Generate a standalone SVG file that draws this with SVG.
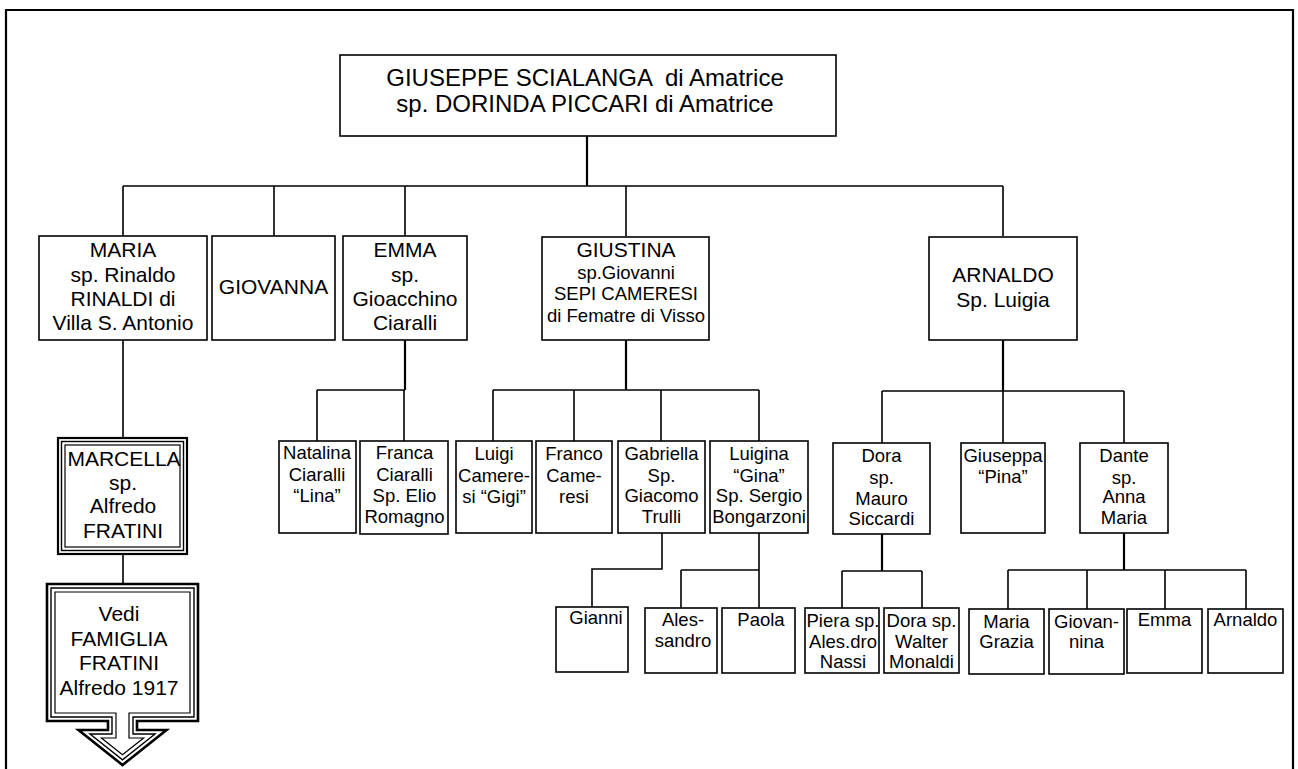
<svg xmlns="http://www.w3.org/2000/svg" width="1298" height="769" viewBox="0 0 1298 769">
  <style>
    .box { fill: #fff; stroke: #000; stroke-width: 1.6; }
    .ln { fill: none; stroke: #000; stroke-width: 1.6; }
    .stem { fill: none; stroke: #000; stroke-width: 2.2; }
    text { font-family: "Liberation Sans", Arial, sans-serif; fill: #000; text-anchor: middle; white-space: pre; }
    .t24 { font-size: 24px; }
    .t21 { font-size: 21px; }
    .t18 { font-size: 18.5px; }
  </style>

  <!-- page frame (open at the bottom) -->
  <path d="M6,780 V10 H1293 V780" fill="none" stroke="#000" stroke-width="2.2"/>

  <!-- connectors -->
  <g id="connectors">
    <!-- root to children -->
    <path class="stem" d="M587,136 V186"/>
    <path class="ln" d="M123,186 H1003 M123,186 V236 M274,186 V236 M405,186 V236 M626,186 V236 M1003,186 V236"/>
    <!-- Maria line -->
    <path class="ln" d="M123,340 V438 M123,554 V584"/>
    <!-- Emma children -->
    <path class="stem" d="M405,340 V390"/>
    <path class="ln" d="M317,390 H405 M317,390 V441 M404,390 V441"/>
    <!-- Giustina children -->
    <path class="stem" d="M626,340 V390"/>
    <path class="ln" d="M493,390 H759 M493,390 V441 M574,390 V441 M661,390 V441 M759,390 V441"/>
    <!-- Gabriella child -->
    <path class="ln" d="M662,533 V569 H592 V607"/>
    <!-- Luigina children -->
    <path class="ln" d="M759,533 V570 M681,570 H759 M681,570 V608 M759,570 V608"/>
    <!-- Arnaldo children -->
    <path class="stem" d="M1003,340 V391"/>
    <path class="ln" d="M882,391 H1124 M882,391 V443 M1003,391 V443 M1124,391 V443"/>
    <!-- Dora children -->
    <path class="stem" d="M882,534 V571"/>
    <path class="ln" d="M842,571 H922 M842,571 V608 M922,571 V608"/>
    <!-- Dante children -->
    <path class="stem" d="M1124,533 V570"/>
    <path class="ln" d="M1008,570 H1246 M1008,570 V609 M1087,570 V609 M1165,570 V609 M1246,570 V609"/>
  </g>

  <!-- root -->
  <g id="root">
    <rect class="box" x="340" y="55" width="496" height="81"/>
    <text class="t24" x="585" y="86" xml:space="preserve">GIUSEPPE SCIALANGA  di Amatrice</text>
    <text class="t24" x="585" y="112">sp. DORINDA PICCARI di Amatrice</text>
  </g>

  <!-- first generation -->
  <g id="maria">
    <rect class="box" x="39" y="236" width="168" height="104"/>
    <text class="t21" x="123" y="257">MARIA</text>
    <text class="t21" x="123" y="282">sp. Rinaldo</text>
    <text class="t21" x="123" y="306">RINALDI di</text>
    <text class="t21" x="123" y="330">Villa S. Antonio</text>
  </g>
  <g id="giovanna">
    <rect class="box" x="212" y="236" width="123" height="104"/>
    <text class="t21" x="273.5" y="294">GIOVANNA</text>
  </g>
  <g id="emma">
    <rect class="box" x="343" y="236" width="124" height="104"/>
    <text class="t21" x="405" y="257">EMMA</text>
    <text class="t21" x="405" y="282">sp.</text>
    <text class="t21" x="405" y="306">Gioacchino</text>
    <text class="t21" x="405" y="330">Ciaralli</text>
  </g>
  <g id="giustina">
    <rect class="box" x="542" y="237" width="167" height="103"/>
    <text class="t21" x="626" y="257">GIUSTINA</text>
    <text class="t18" x="626" y="279">sp.Giovanni</text>
    <text class="t18" x="626" y="300">SEPI CAMERESI</text>
    <text class="t18" x="626" y="322">di Fematre di Visso</text>
  </g>
  <g id="arnaldo">
    <rect class="box" x="929" y="237" width="148" height="103"/>
    <text class="t21" x="1003" y="282">ARNALDO</text>
    <text class="t21" x="1003" y="307">Sp. Luigia</text>
  </g>

  <!-- Marcella, triple border -->
  <g id="marcella">
    <rect x="58" y="438" width="129" height="116" fill="#fff" stroke="#000" stroke-width="2.2"/>
    <rect x="61.5" y="441.5" width="122" height="109" fill="none" stroke="#000" stroke-width="1.4"/>
    <rect x="65" y="445" width="115" height="102" fill="none" stroke="#000" stroke-width="1.2"/>
    <text class="t21" x="124" y="466">MARCELLA</text>
    <text class="t21" x="123" y="490">sp.</text>
    <text class="t21" x="123" y="513">Alfredo</text>
    <text class="t21" x="123" y="538">FRATINI</text>
  </g>

  <!-- down-arrow callout, triple border -->
  <g id="vedi-fratini">
    <path d="M47,584 H198 V721 H137 V730 H166.5 L122.5,765 L78.5,730 H108 V721 H47 Z" fill="#fff" stroke="#000" stroke-width="2.6" stroke-linejoin="miter"/>
    <path d="M51,588 H194 V717 H133 V734 H155 L122.5,759.9 L90,734 H112 V717 H51 Z" fill="none" stroke="#000" stroke-width="1.4"/>
    <path d="M55,592 H190 V713 H129 V738 H143.6 L122.5,754.8 L101.4,738 H116 V713 H55 Z" fill="none" stroke="#000" stroke-width="1.2"/>
    <text class="t21" x="119" y="621">Vedi</text>
    <text class="t21" x="119" y="646">FAMIGLIA</text>
    <text class="t21" x="119" y="670">FRATINI</text>
    <text class="t21" x="119" y="695">Alfredo 1917</text>
  </g>

  <!-- Emma's children -->
  <g id="natalina">
    <rect class="box" x="279" y="441" width="77" height="92"/>
    <text class="t18" x="317" y="459">Natalina</text>
    <text class="t18" x="317" y="481">Ciaralli</text>
    <text class="t18" x="317" y="502">“Lina”</text>
  </g>
  <g id="franca">
    <rect class="box" x="360" y="441" width="88" height="93"/>
    <text class="t18" x="404.5" y="459">Franca</text>
    <text class="t18" x="404.5" y="481">Ciaralli</text>
    <text class="t18" x="404.5" y="502">Sp. Elio</text>
    <text class="t18" x="404.5" y="523">Romagno</text>
  </g>

  <!-- Giustina's children -->
  <g id="luigi">
    <rect class="box" x="456" y="441" width="76" height="92"/>
    <text class="t18" x="494" y="460">Luigi</text>
    <text class="t18" x="494" y="482">Camere-</text>
    <text class="t18" x="494" y="503">si “Gigi”</text>
  </g>
  <g id="franco">
    <rect class="box" x="536" y="441" width="76" height="92"/>
    <text class="t18" x="574" y="460">Franco</text>
    <text class="t18" x="574" y="482">Came-</text>
    <text class="t18" x="574" y="503">resi</text>
  </g>
  <g id="gabriella">
    <rect class="box" x="618" y="441" width="87" height="92"/>
    <text class="t18" x="661.5" y="460">Gabriella</text>
    <text class="t18" x="661.5" y="482">Sp.</text>
    <text class="t18" x="661.5" y="502">Giacomo</text>
    <text class="t18" x="661.5" y="523">Trulli</text>
  </g>
  <g id="luigina">
    <rect class="box" x="710" y="441" width="98" height="92"/>
    <text class="t18" x="759" y="460">Luigina</text>
    <text class="t18" x="759" y="482">“Gina”</text>
    <text class="t18" x="759" y="502">Sp. Sergio</text>
    <text class="t18" x="759" y="523">Bongarzoni</text>
  </g>

  <!-- grandchildren of Giustina -->
  <g id="gianni">
    <rect class="box" x="556" y="607" width="72" height="65"/>
    <text class="t18" x="596" y="624">Gianni</text>
  </g>
  <g id="alessandro">
    <rect class="box" x="645" y="608" width="72" height="65"/>
    <text class="t18" x="683" y="626">Ales-</text>
    <text class="t18" x="683" y="647">sandro</text>
  </g>
  <g id="paola">
    <rect class="box" x="722" y="608" width="73" height="65"/>
    <text class="t18" x="761" y="626">Paola</text>
  </g>

  <!-- Arnaldo's children -->
  <g id="dora">
    <rect class="box" x="833" y="443" width="97" height="91"/>
    <text class="t18" x="881.5" y="462">Dora</text>
    <text class="t18" x="881.5" y="484">sp.</text>
    <text class="t18" x="881.5" y="505">Mauro</text>
    <text class="t18" x="881.5" y="525">Siccardi</text>
  </g>
  <g id="giuseppa">
    <rect class="box" x="961" y="443" width="84" height="90"/>
    <text class="t18" x="1003" y="462">Giuseppa</text>
    <text class="t18" x="1003" y="483">“Pina”</text>
  </g>
  <g id="dante">
    <rect class="box" x="1080" y="443" width="88" height="90"/>
    <text class="t18" x="1124" y="462">Dante</text>
    <text class="t18" x="1124" y="484">sp.</text>
    <text class="t18" x="1124" y="503">Anna</text>
    <text class="t18" x="1124" y="524">Maria</text>
  </g>

  <!-- Dora's children -->
  <g id="piera">
    <rect class="box" x="805" y="608" width="74" height="65"/>
    <text class="t18" x="843" y="627">Piera sp.</text>
    <text class="t18" x="843" y="648">Ales.dro</text>
    <text class="t18" x="843" y="668">Nassi</text>
  </g>
  <g id="dora-jr">
    <rect class="box" x="884" y="608" width="75" height="65"/>
    <text class="t18" x="921.5" y="627">Dora sp.</text>
    <text class="t18" x="921.5" y="648">Walter</text>
    <text class="t18" x="921.5" y="668">Monaldi</text>
  </g>

  <!-- Dante's children -->
  <g id="maria-grazia">
    <rect class="box" x="969" y="609" width="75" height="65"/>
    <text class="t18" x="1006.5" y="628">Maria</text>
    <text class="t18" x="1006.5" y="648">Grazia</text>
  </g>
  <g id="giovannina">
    <rect class="box" x="1049" y="609" width="75" height="65"/>
    <text class="t18" x="1086.5" y="628">Giovan-</text>
    <text class="t18" x="1086.5" y="648">nina</text>
  </g>
  <g id="emma-jr">
    <rect class="box" x="1127" y="609" width="75" height="64"/>
    <text class="t18" x="1164.5" y="626">Emma</text>
  </g>
  <g id="arnaldo-jr">
    <rect class="box" x="1208" y="609" width="75" height="64"/>
    <text class="t18" x="1245.5" y="626">Arnaldo</text>
  </g>
</svg>
